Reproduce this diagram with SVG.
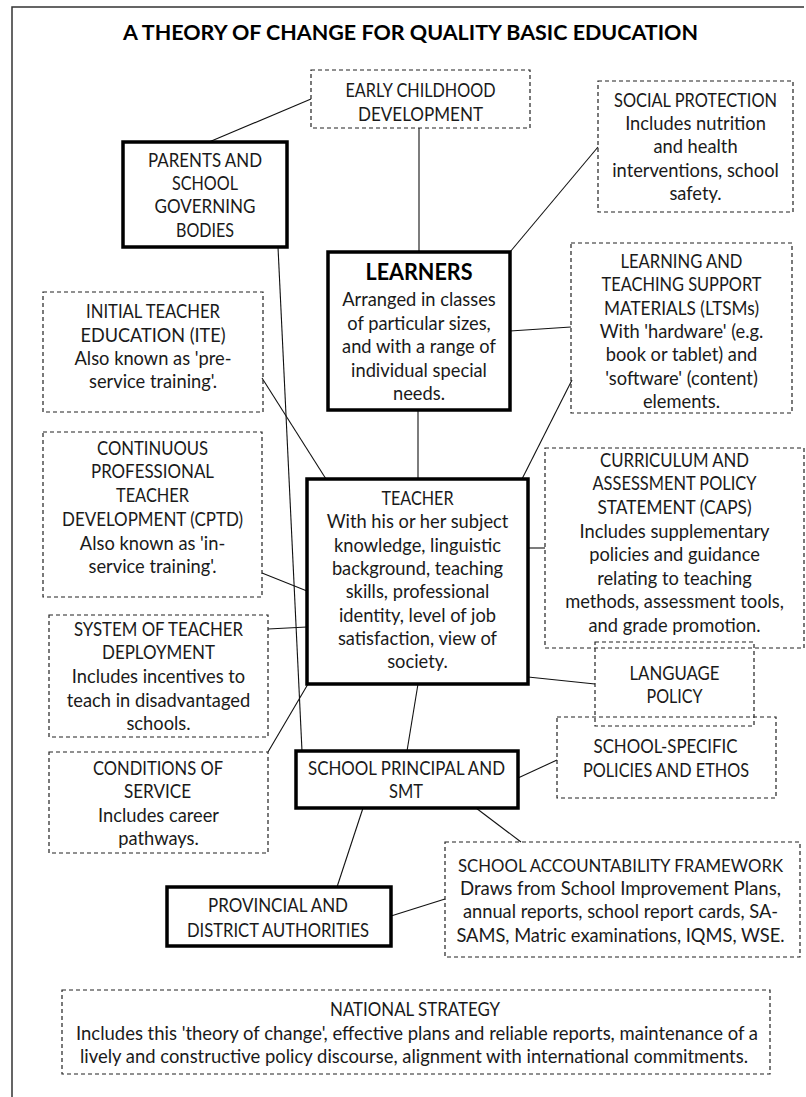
<svg xmlns="http://www.w3.org/2000/svg" width="806" height="1097" viewBox="0 0 806 1097">
<style>
.bg{fill:#ffffff}
.frame{fill:none;stroke:#333333;stroke-width:1.5}
.dash{fill:none;stroke:#222222;stroke-width:1.2;stroke-dasharray:4 3}
.thick{fill:#ffffff;stroke:#000000;stroke-width:3.5}
.conn line{stroke:#111111;stroke-width:1.1}
text{font-family:Lato,"Liberation Sans",sans-serif;font-size:18.3px;fill:#1a1a1a;text-anchor:middle}
.title{font-weight:bold;font-size:21px;fill:#000}
.head{font-weight:bold;font-size:23px;fill:#000}
.sm{font-size:17px}
</style>
<rect class="bg" x="0" y="0" width="806" height="1097"/>
<g id="frame">
<path class="frame" d="M12,1097 L12,7 L804,7"/>
</g>
<text class="title" x="410.5" y="40" textLength="575" lengthAdjust="spacingAndGlyphs">A THEORY OF CHANGE FOR QUALITY BASIC EDUCATION</text>

<g id="connectors" class="conn">
<line x1="311" y1="99" x2="209" y2="142"/>
<line x1="419" y1="128" x2="419" y2="252"/>
<line x1="598" y1="147" x2="510" y2="252"/>
<line x1="278" y1="247" x2="302" y2="751"/>
<line x1="510" y1="331" x2="571" y2="327"/>
<line x1="418" y1="410" x2="418" y2="479"/>
<line x1="262" y1="378" x2="326" y2="479"/>
<line x1="572" y1="380" x2="522" y2="479"/>
<line x1="262" y1="573" x2="307" y2="591"/>
<line x1="268" y1="629" x2="307" y2="627"/>
<line x1="268" y1="752" x2="308" y2="684"/>
<line x1="528" y1="548" x2="545" y2="548"/>
<line x1="528" y1="677" x2="595" y2="684"/>
<line x1="418" y1="684" x2="407" y2="751"/>
<line x1="518" y1="778" x2="557" y2="760"/>
<line x1="476" y1="808" x2="521" y2="842"/>
<line x1="363" y1="808" x2="337" y2="887"/>
<line x1="391" y1="916" x2="445" y2="899"/>
</g>

<g id="ecd">
<rect class="dash" x="311" y="70" width="219" height="58"/>
<text x="420.5" y="97" textLength="150" lengthAdjust="spacingAndGlyphs">EARLY CHILDHOOD</text>
<text x="420.5" y="121" textLength="125" lengthAdjust="spacingAndGlyphs">DEVELOPMENT</text>
</g>

<g id="social-protection">
<rect class="dash" x="598" y="81" width="195" height="131"/>
<text x="695.5" y="107" textLength="163" lengthAdjust="spacingAndGlyphs">SOCIAL PROTECTION</text>
<text x="695.5" y="130">Includes nutrition</text>
<text x="695.5" y="153">and health</text>
<text x="695.5" y="177">interventions, school</text>
<text x="695.5" y="200">safety.</text>
</g>

<g id="parents">
<rect class="thick" x="123" y="142" width="164" height="105"/>
<text x="205" y="167" textLength="114" lengthAdjust="spacingAndGlyphs">PARENTS AND</text>
<text x="205" y="190" textLength="66" lengthAdjust="spacingAndGlyphs">SCHOOL</text>
<text x="205" y="213" textLength="101" lengthAdjust="spacingAndGlyphs">GOVERNING</text>
<text x="205" y="237" textLength="58" lengthAdjust="spacingAndGlyphs">BODIES</text>
</g>

<g id="learners">
<rect class="thick" x="328" y="252" width="182" height="158"/>
<text class="head" x="419" y="280" textLength="107" lengthAdjust="spacingAndGlyphs">LEARNERS</text>
<text x="419" y="306">Arranged in classes</text>
<text x="419" y="330">of particular sizes,</text>
<text x="419" y="353">and with a range of</text>
<text x="419" y="377">individual special</text>
<text x="419" y="400">needs.</text>
</g>

<g id="ltsm">
<rect class="dash" x="571" y="243" width="221" height="170"/>
<text x="681.5" y="268" textLength="122" lengthAdjust="spacingAndGlyphs">LEARNING AND</text>
<text x="681.5" y="291" textLength="160" lengthAdjust="spacingAndGlyphs">TEACHING SUPPORT</text>
<text x="681.5" y="315" textLength="155" lengthAdjust="spacingAndGlyphs">MATERIALS (LTSMs)</text>
<text x="681.5" y="338">With 'hardware' (e.g.</text>
<text x="681.5" y="361">book or tablet) and</text>
<text x="681.5" y="385">'software' (content)</text>
<text x="681.5" y="408">elements.</text>
</g>

<g id="ite">
<rect class="dash" x="43" y="292" width="220" height="120"/>
<text x="153" y="318" textLength="134" lengthAdjust="spacingAndGlyphs">INITIAL TEACHER</text>
<text x="153" y="342" textLength="145" lengthAdjust="spacingAndGlyphs">EDUCATION (ITE)</text>
<text x="153" y="365">Also known as 'pre-</text>
<text x="153" y="388">service training'.</text>
</g>

<g id="cptd">
<rect class="dash" x="43" y="432" width="219" height="165"/>
<text x="152.5" y="455" textLength="111" lengthAdjust="spacingAndGlyphs">CONTINUOUS</text>
<text x="152.5" y="478" textLength="123" lengthAdjust="spacingAndGlyphs">PROFESSIONAL</text>
<text x="152.5" y="502" textLength="73" lengthAdjust="spacingAndGlyphs">TEACHER</text>
<text x="152.5" y="526" textLength="181" lengthAdjust="spacingAndGlyphs">DEVELOPMENT (CPTD)</text>
<text x="152.5" y="550">Also known as 'in-</text>
<text x="152.5" y="573">service training'.</text>
</g>

<g id="teacher">
<rect class="thick" x="307" y="479" width="221" height="205"/>
<text x="417.5" y="505" textLength="72" lengthAdjust="spacingAndGlyphs">TEACHER</text>
<text x="417.5" y="528">With his or her subject</text>
<text x="417.5" y="552">knowledge, linguistic</text>
<text x="417.5" y="575">background, teaching</text>
<text x="417.5" y="598">skills, professional</text>
<text x="417.5" y="622">identity, level of job</text>
<text x="417.5" y="645">satisfaction, view of</text>
<text x="417.5" y="668">society.</text>
</g>

<g id="caps">
<rect class="dash" x="545" y="448" width="259" height="200"/>
<text x="674.5" y="467" textLength="149" lengthAdjust="spacingAndGlyphs">CURRICULUM  AND</text>
<text x="674.5" y="490" textLength="164" lengthAdjust="spacingAndGlyphs">ASSESSMENT POLICY</text>
<text x="674.5" y="514" textLength="154" lengthAdjust="spacingAndGlyphs">STATEMENT (CAPS)</text>
<text x="674.5" y="538">Includes supplementary</text>
<text x="674.5" y="561">policies and guidance</text>
<text x="674.5" y="585">relating to teaching</text>
<text x="674.5" y="608">methods, assessment tools,</text>
<text x="674.5" y="632">and grade promotion.</text>
</g>

<g id="deployment">
<rect class="dash" x="49" y="615" width="219" height="122"/>
<text x="158.5" y="636" textLength="169" lengthAdjust="spacingAndGlyphs">SYSTEM OF TEACHER</text>
<text x="158.5" y="659" textLength="113" lengthAdjust="spacingAndGlyphs">DEPLOYMENT</text>
<text x="158.5" y="683">Includes incentives to</text>
<text x="158.5" y="707">teach in disadvantaged</text>
<text x="158.5" y="730">schools.</text>
</g>

<g id="language">
<rect class="dash" x="595" y="642" width="159" height="84"/>
<text x="674.5" y="680" textLength="90" lengthAdjust="spacingAndGlyphs">LANGUAGE</text>
<text x="674.5" y="703" textLength="56" lengthAdjust="spacingAndGlyphs">POLICY</text>
</g>

<g id="school-specific">
<rect class="dash" x="557" y="717" width="219" height="81"/>
<text x="665.5" y="753" textLength="144" lengthAdjust="spacingAndGlyphs">SCHOOL-SPECIFIC</text>
<text x="666" y="777" textLength="166" lengthAdjust="spacingAndGlyphs">POLICIES AND ETHOS</text>
</g>

<g id="conditions">
<rect class="dash" x="49" y="752" width="219" height="101"/>
<text x="158" y="775" textLength="130" lengthAdjust="spacingAndGlyphs">CONDITIONS OF</text>
<text x="157.5" y="798" textLength="67" lengthAdjust="spacingAndGlyphs">SERVICE</text>
<text x="158.5" y="822">Includes career</text>
<text x="158.5" y="845">pathways.</text>
</g>

<g id="principal">
<rect class="thick" x="296" y="751" width="222" height="57"/>
<text x="406.5" y="775" textLength="197" lengthAdjust="spacingAndGlyphs">SCHOOL PRINCIPAL AND</text>
<text x="406" y="798" textLength="34" lengthAdjust="spacingAndGlyphs">SMT</text>
</g>

<g id="accountability">
<rect class="dash" x="445" y="842" width="355" height="115"/>
<text class="sm" x="620.5" y="872" textLength="325" lengthAdjust="spacingAndGlyphs">SCHOOL ACCOUNTABILITY FRAMEWORK</text>
<text x="620.5" y="895" textLength="321" lengthAdjust="spacingAndGlyphs">Draws from School Improvement Plans,</text>
<text x="620.5" y="918">annual reports, school report cards, SA-</text>
<text x="620.5" y="942">SAMS, Matric examinations, IQMS, WSE.</text>
</g>

<g id="provincial">
<rect class="thick" x="167" y="887" width="224" height="59"/>
<text x="278" y="912" textLength="140" lengthAdjust="spacingAndGlyphs">PROVINCIAL AND</text>
<text x="278" y="937" textLength="182" lengthAdjust="spacingAndGlyphs">DISTRICT AUTHORITIES</text>
</g>

<g id="national">
<rect class="dash" x="62" y="990" width="708" height="84"/>
<text x="415" y="1016" textLength="170" lengthAdjust="spacingAndGlyphs">NATIONAL STRATEGY</text>
<text x="417" y="1040" textLength="682" lengthAdjust="spacingAndGlyphs">Includes this 'theory of change', effective plans and reliable reports, maintenance of a</text>
<text x="414" y="1063" textLength="668" lengthAdjust="spacingAndGlyphs">lively and constructive policy discourse, alignment with international commitments.</text>
</g>
</svg>
